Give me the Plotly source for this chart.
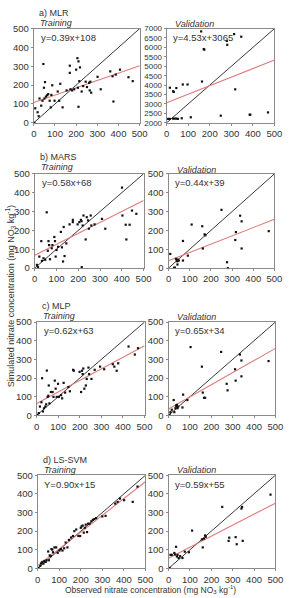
import plotly.graph_objects as go

W, H = 294, 598

# ---------------- data ----------------
panel_titles = ["a) MLR", "b) MARS", "c) MLP", "d) LS-SVM"]
equations_train = ["y=0.39x+108", "y=0.58x+68", "y=0.62x+63", "Y=0.90x+15"]
equations_valid = ["y=4.53x+3065", "y=0.44x+39", "y=0.65x+34", "y=0.59x+55"]
slopes_train = [0.39, 0.58, 0.62, 0.90]
intercepts_train = [108, 68, 63, 15]
slopes_valid = [4.53, 0.44, 0.65, 0.59]
intercepts_valid = [3065, 39, 34, 55]

mlr_train_x = [3, 7, 18, 23, 27, 35, 45, 41, 48, 53, 50, 57, 63, 68, 75, 83, 80, 87, 98, 113, 120, 125, 136, 155, 173, 170, 170, 181, 191, 200, 206, 211, 218, 211, 215, 208, 226, 233, 245, 251, 261, 264, 267, 271, 301, 316, 361, 372, 376, 387, 407, 447, 467]
mlr_train_y = [0, 77, 56, 35, 129, 91, 312, 117, 186, 216, 129, 139, 146, 152, 117, 148, 82, 199, 117, 166, 117, 207, 82, 172, 178, 303, 265, 172, 178, 282, 343, 326, 294, 85, 221, 186, 166, 195, 218, 190, 212, 172, 218, 160, 244, 178, 273, 247, 113, 256, 282, 242, 221]
mlr_valid_x = [15, 30, 33, 45, 75, 97, 164, 160, 172, 175, 279, 281, 313, 346, 318, 7, 15, 30, 37, 45, 52, 70, 112, 251, 385, 388, 470]
mlr_valid_y = [3862, 3672, 3638, 3845, 4034, 4034, 4190, 6850, 5914, 5880, 6345, 6138, 6707, 6569, 3776, 2207, 2207, 2224, 2224, 2224, 2207, 2241, 2293, 2379, 2431, 2431, 2552]

mars_train_x = [10, 15, 21, 30, 33, 40, 48, 55, 60, 63, 66, 70, 78, 81, 90, 93, 96, 100, 107, 120, 125, 130, 133, 137, 145, 160, 175, 175, 197, 205, 212, 215, 220, 216, 224, 234, 239, 245, 249, 257, 260, 275, 309, 324, 403, 418, 401, 421, 436, 447, 467]
mars_train_y = [17, 5, 61, 143, 38, 52, 44, 296, 92, 143, 122, 47, 105, 122, 165, 143, 61, 96, 113, 192, 110, 35, 218, 64, 131, 232, 256, 244, 232, 244, 256, 249, 226, 5, 279, 152, 270, 253, 209, 279, 226, 232, 261, 209, 279, 230, 427, 152, 230, 305, 288]
mars_valid_x = [8, 26, 30, 35, 38, 41, 42, 45, 48, 42, 68, 68, 91, 109, 159, 162, 170, 174, 250, 276, 280, 315, 318, 338, 345, 345, 473]
mars_valid_y = [75, 2, 2, 49, 40, 45, 36, 43, 40, 19, 144, 40, 66, 231, 222, 104, 179, 174, 309, 31, 0, 149, 191, 278, 248, 104, 196]

mlp_train_x = [4, 10, 15, 22, 25, 29, 34, 40, 44, 47, 51, 54, 56, 59, 66, 74, 78, 84, 88, 93, 99, 103, 113, 118, 125, 132, 147, 154, 169, 172, 199, 206, 210, 213, 216, 221, 228, 232, 240, 243, 254, 269, 294, 313, 353, 360, 371, 378, 426, 455, 470]
mlp_train_y = [3, 12, 47, 70, 199, 21, 38, 47, 59, 240, 99, 105, 160, 64, 125, 125, 99, 186, 143, 99, 169, 99, 108, 91, 174, 122, 152, 129, 244, 239, 233, 125, 239, 221, 251, 143, 160, 195, 256, 221, 195, 244, 261, 247, 274, 261, 239, 279, 369, 326, 360]
mlp_valid_x = [5, 9, 15, 24, 27, 32, 35, 38, 42, 39, 45, 65, 68, 88, 103, 156, 160, 166, 171, 246, 272, 276, 311, 314, 334, 341, 341, 468]
mlp_valid_y = [3, 17, 30, 82, 17, 38, 52, 47, 38, 56, 47, 42, 111, 82, 366, 261, 122, 94, 94, 340, 169, 134, 247, 186, 326, 294, 209, 291]

svm_train_x = [4, 12, 16, 19, 22, 27, 31, 37, 41, 49, 52, 56, 61, 64, 68, 71, 78, 86, 93, 101, 108, 115, 123, 130, 138, 145, 155, 164, 170, 179, 189, 197, 200, 204, 209, 214, 219, 223, 229, 234, 241, 249, 256, 263, 271, 300, 315, 360, 371, 382, 401, 441, 463]
svm_train_y = [3, 14, 26, 31, 35, 26, 40, 35, 44, 91, 44, 70, 66, 104, 101, 87, 113, 113, 84, 96, 104, 96, 108, 139, 113, 153, 166, 174, 200, 209, 174, 174, 218, 226, 230, 192, 218, 235, 195, 240, 240, 253, 261, 265, 270, 279, 282, 348, 357, 375, 366, 357, 439]
svm_valid_x = [5, 9, 15, 27, 30, 35, 39, 42, 47, 54, 65, 76, 95, 110, 156, 160, 166, 171, 174, 251, 281, 284, 314, 319, 341, 344, 347, 477]
svm_valid_y = [3, 73, 73, 83, 75, 116, 64, 73, 56, 66, 56, 90, 87, 203, 156, 113, 160, 177, 170, 330, 148, 165, 168, 130, 321, 330, 148, 396]

train_x = [mlr_train_x, mars_train_x, mlp_train_x, svm_train_x]
train_y = [mlr_train_y, mars_train_y, mlp_train_y, svm_train_y]
valid_x = [mlr_valid_x, mars_valid_x, mlp_valid_x, svm_valid_x]
valid_y = [mlr_valid_y, mars_valid_y, mlp_valid_y, svm_valid_y]

x_ticks = [0, 100, 200, 300, 400, 500]
y_ticks = [0, 100, 200, 300, 400, 500]
mlr_valid_y_ticks = list(range(2000, 7001, 500))

# ---------------- layout (pixel boxes) ----------------
left_x = [(32, 142), (33, 146), (35, 147), (36, 148)]
right_x = [(170, 282), (172, 282), (172, 283), (172, 283)]
row_y = [(23, 119), (171, 267), (322, 417), (478, 573)]
title_dy = [(-16, -6, -5), (-17, -7, -4), (-16, -6, -5), (-15, -5, -5)]

FONT = "Liberation Sans, Arial, sans-serif"
FRAME = "#8a8a8a"
RED = "#e07a7a"
TXT = "#333333"


def dx(a, b):
    return [a / W, b / W]


def dy(top, bot):
    return [1 - bot / H, 1 - top / H]


def px(x):
    return x / W


def py(y):
    return 1 - y / H


fig = go.Figure()
annotations = []
layout = {}

for i in range(4):
    for j, (xs, ys, sl, ic, eq) in enumerate([
        (train_x[i], train_y[i], slopes_train[i], intercepts_train[i], equations_train[i]),
        (valid_x[i], valid_y[i], slopes_valid[i], intercepts_valid[i], equations_valid[i]),
    ]):
        k = i * 2 + j + 1
        xa = "x" if k == 1 else f"x{k}"
        ya = "y" if k == 1 else f"y{k}"
        xbox = left_x[i] if j == 0 else right_x[i]
        top, bot = row_y[i]
        is_mlr_valid = (i == 0 and j == 1)
        yr = [2000, 7000] if is_mlr_valid else [0, 500]
        yt = mlr_valid_y_ticks if is_mlr_valid else y_ticks

        # 1:1 line (box diagonal)
        fig.add_trace(go.Scatter(x=[0, 500], y=[yr[0], yr[1]],
                                 mode="lines", line=dict(color="#222222", width=0.9),
                                 xaxis=xa, yaxis=ya, showlegend=False, hoverinfo="skip"))
        # regression line
        fig.add_trace(go.Scatter(x=[0, 500], y=[ic, sl * 500 + ic],
                                 mode="lines", line=dict(color=RED, width=1.1),
                                 xaxis=xa, yaxis=ya, showlegend=False, hoverinfo="skip"))
        # points
        fig.add_trace(go.Scatter(x=xs, y=ys, mode="markers",
                                 marker=dict(color="#111111", size=2.2, symbol="square",
                                             line=dict(width=0)),
                                 xaxis=xa, yaxis=ya, showlegend=False, cliponaxis=False))

        axis_common = dict(showline=True, mirror=True, linecolor=FRAME, linewidth=1,
                           ticks="outside", ticklen=2, tickcolor=FRAME, showgrid=False,
                           zeroline=False, tickfont=dict(size=9.5, color=TXT, family=FONT))
        layout["xaxis" if k == 1 else f"xaxis{k}"] = dict(
            domain=dx(*xbox), range=[0, 500], tickvals=x_ticks, anchor=ya, **axis_common)
        yax = dict(domain=dy(top, bot), range=yr, tickvals=yt, anchor=xa, **axis_common)
        if is_mlr_valid:
            yax["tickfont"] = dict(size=8, color=TXT, family=FONT)
        layout["yaxis" if k == 1 else f"yaxis{k}"] = yax

        # equation
        annotations.append(dict(text=eq, x=px(xbox[0] + 5), y=py(top + 9), xref="paper", yref="paper",
                                xanchor="left", yanchor="middle", showarrow=False,
                                font=dict(size=9.5, color=TXT, family=FONT)))
        if j == 0:
            annotations.append(dict(text=panel_titles[i], x=px(xbox[0] + 3), y=py(top + title_dy[i][0]),
                                    xref="paper", yref="paper", xanchor="left", yanchor="middle",
                                    showarrow=False, font=dict(size=9, color=TXT, family=FONT)))
            annotations.append(dict(text="<i>Training</i>", x=px(xbox[0] + 4), y=py(top + title_dy[i][1]),
                                    xref="paper", yref="paper", xanchor="left", yanchor="middle",
                                    showarrow=False, font=dict(size=9, color=TXT, family=FONT)))
        else:
            annotations.append(dict(text="<i>Validation</i>", x=px(xbox[0] + 7), y=py(top + title_dy[i][2]),
                                    xref="paper", yref="paper", xanchor="left", yanchor="middle",
                                    showarrow=False, font=dict(size=9, color=TXT, family=FONT)))

annotations.append(dict(text="Simulated nitrate concentration (mg NO<sub>3</sub> kg<sup>-1</sup>)",
                        x=px(8), y=py(296), xref="paper", yref="paper", textangle=-90,
                        xanchor="center", yanchor="middle", showarrow=False,
                        font=dict(size=9, color=TXT, family=FONT)))
annotations.append(dict(text="Observed nitrate concentration (mg NO<sub>3</sub> kg<sup>-1</sup>)",
                        x=px(153), y=py(594), xref="paper", yref="paper",
                        xanchor="center", yanchor="middle", showarrow=False,
                        font=dict(size=8.5, color=TXT, family=FONT)))

fig.update_layout(width=W, height=H, margin=dict(l=0, r=0, t=0, b=0),
                  paper_bgcolor="white", plot_bgcolor="white",
                  annotations=annotations, **layout)

fig.write_html("out.html")
